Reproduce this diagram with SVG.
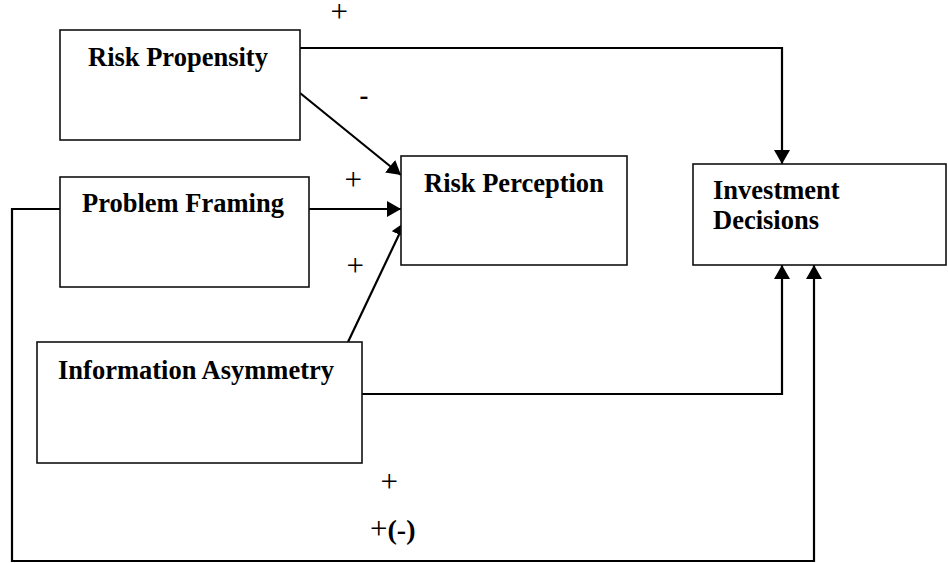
<svg xmlns="http://www.w3.org/2000/svg" width="948" height="563" viewBox="0 0 948 563">
<style>
.box{fill:#fff;stroke:#111;stroke-width:1.6}
.lbl{font-family:"Liberation Serif","Times New Roman",serif;font-weight:bold;font-size:26.5px;fill:#000}
.sgn{font-family:"Liberation Serif","Times New Roman",serif;font-size:31px;fill:#000}
.con{fill:none;stroke:#000;stroke-width:2.2}
</style>
<defs>
<marker id="arr" markerUnits="userSpaceOnUse" markerWidth="16" markerHeight="16" refX="14" refY="8" orient="auto" viewBox="0 0 16 16">
<path d="M0,0 L14,8 L0,16 z" fill="#000"/>
</marker>
</defs>
<rect width="948" height="563" fill="#fff"/>
<g id="connectors">
<polyline class="con" points="300,48 782,48 782,164" marker-end="url(#arr)"/>
<line class="con" x1="300" y1="93" x2="401" y2="175" marker-end="url(#arr)"/>
<line class="con" x1="309" y1="209" x2="401" y2="209" marker-end="url(#arr)"/>
<line class="con" x1="348" y1="342" x2="405" y2="222" marker-end="url(#arr)"/>
<polyline class="con" points="362,394 782,394 782,265" marker-end="url(#arr)"/>
<polyline class="con" points="60,209 12,209 12,561 814,561 814,265" marker-end="url(#arr)"/>
</g>
<g id="risk-propensity">
<rect class="box" x="60" y="30" width="240" height="110"/>
<text class="lbl" x="88" y="66">Risk Propensity</text>
</g>
<g id="problem-framing">
<rect class="box" x="60" y="177" width="249" height="110"/>
<text class="lbl" x="82" y="212">Problem Framing</text>
</g>
<g id="information-asymmetry">
<rect class="box" x="37" y="342" width="325" height="121"/>
<text class="lbl" x="58" y="379">Information Asymmetry</text>
</g>
<g id="risk-perception">
<rect class="box" x="401" y="156" width="226" height="109"/>
<text class="lbl" x="424" y="192">Risk Perception</text>
</g>
<g id="investment-decisions">
<rect class="box" x="693" y="164" width="253" height="101"/>
<text class="lbl" x="713" y="199">Investment</text>
<text class="lbl" x="713" y="229">Decisions</text>
</g>
<g id="signs">
<text class="sgn" x="330.5" y="22">+</text>
<text class="lbl" x="359.5" y="103.5">-</text>
<text class="sgn" x="344.5" y="190">+</text>
<text class="sgn" x="346.5" y="276">+</text>
<text class="sgn" x="380.5" y="492">+</text>
<text class="sgn" x="370" y="539">+<tspan font-weight="bold" font-size="28">(-)</tspan></text>
</g>
</svg>
